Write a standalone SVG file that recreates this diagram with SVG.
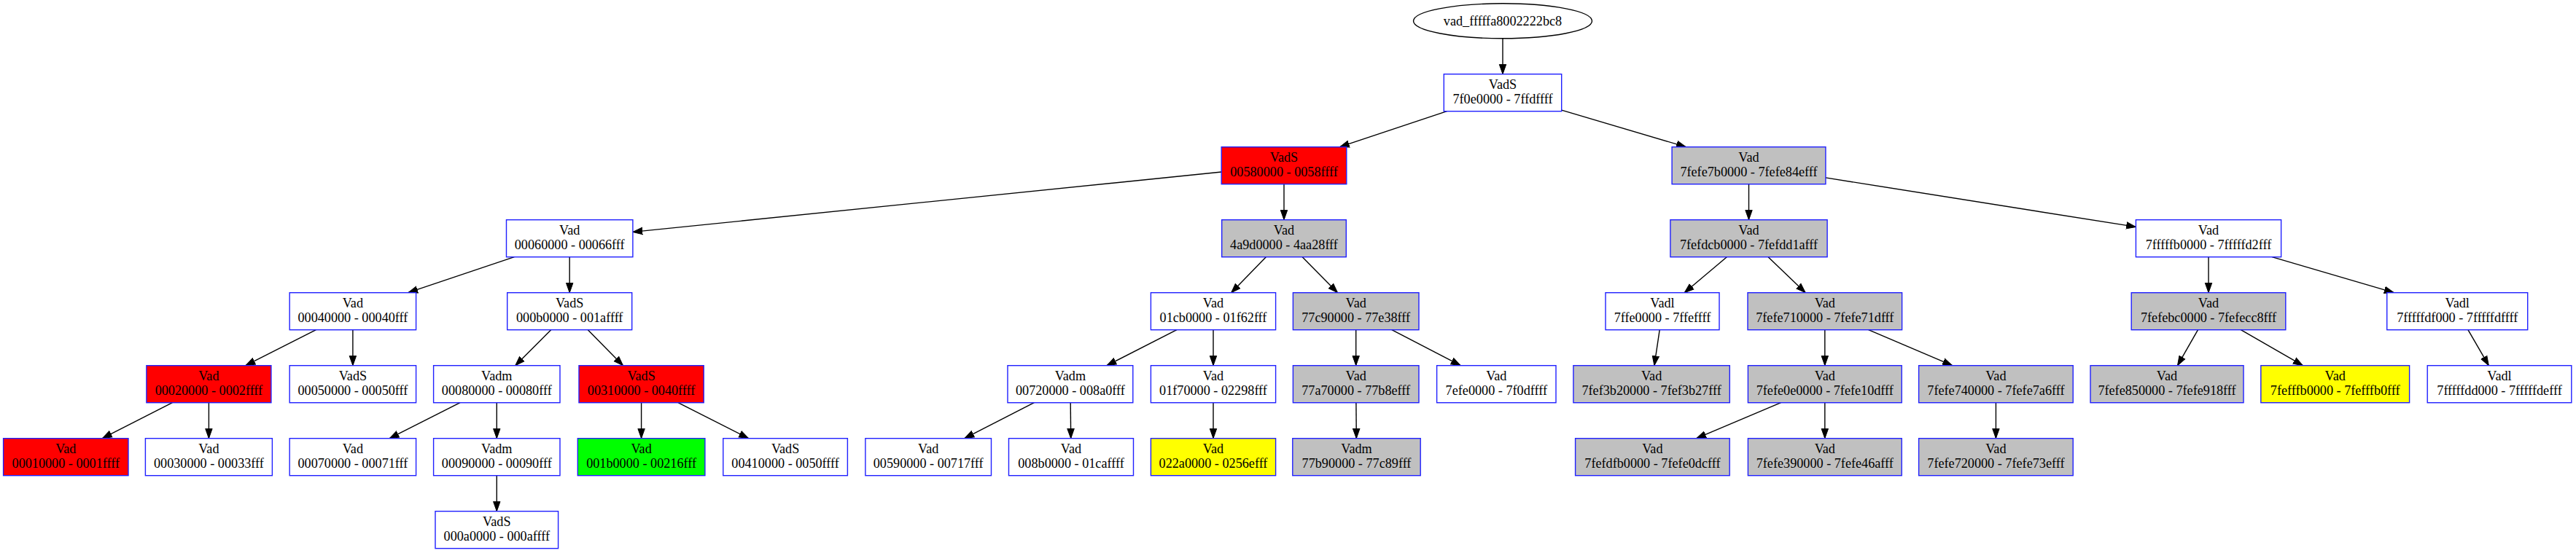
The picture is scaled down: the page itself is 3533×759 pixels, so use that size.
<svg xmlns="http://www.w3.org/2000/svg" width="3533" height="759" viewBox="0 0 3533 759">
<style>
.nd{stroke:#2020ff;stroke-width:1.4}
.w{fill:#ffffff}.r{fill:#ff0000}.g{fill:#c0c0c0}.y{fill:#ffff00}.gn{fill:#00ff00}
text{font-family:"Liberation Serif","Times New Roman",serif;font-size:18.2px;fill:#000;text-anchor:middle}
#edges line{stroke:#000;stroke-width:1.4;marker-end:url(#ah)}
</style>
<defs>
<marker id="ah" viewBox="0 -6 14 12" refX="13.3" refY="0" markerWidth="14" markerHeight="12" markerUnits="userSpaceOnUse" orient="auto">
<path d="M0,-4.7 L13.3,0 L0,4.7 Z" fill="#000" stroke="#000" stroke-width="1"/>
</marker>
</defs>
<rect x="0" y="0" width="3533" height="759" fill="#fff" stroke="none"/>
<g id="edges">
<line x1="2061" y1="52.8" x2="2061" y2="101.7"/>
<line x1="1984.5" y1="152.7" x2="1837.5" y2="201.7"/>
<line x1="2141.7" y1="151.1" x2="2312.4" y2="201.7"/>
<line x1="1675.2" y1="236" x2="867.9" y2="318.4"/>
<line x1="1761" y1="252.7" x2="1761" y2="301.7"/>
<line x1="2398.5" y1="252.7" x2="2398.5" y2="301.7"/>
<line x1="2503.9" y1="243.9" x2="2929.4" y2="311.4"/>
<line x1="705.4" y1="352.7" x2="559.7" y2="401.7"/>
<line x1="781.2" y1="352.7" x2="781.2" y2="401.7"/>
<line x1="1736.3" y1="352.7" x2="1688.7" y2="401.7"/>
<line x1="1786.2" y1="352.7" x2="1834.5" y2="401.7"/>
<line x1="2368.3" y1="352.7" x2="2310.2" y2="401.7"/>
<line x1="2425.1" y1="352.7" x2="2476.2" y2="401.7"/>
<line x1="3029" y1="352.7" x2="3029" y2="401.7"/>
<line x1="3116" y1="352.7" x2="3283.2" y2="401.7"/>
<line x1="433.5" y1="452.7" x2="336.8" y2="501.7"/>
<line x1="483.9" y1="452.7" x2="483.9" y2="501.7"/>
<line x1="755.7" y1="452.7" x2="706.8" y2="501.7"/>
<line x1="806.3" y1="452.7" x2="854.5" y2="501.7"/>
<line x1="1614" y1="452.7" x2="1517.9" y2="501.7"/>
<line x1="1664" y1="452.7" x2="1664" y2="501.7"/>
<line x1="1859.7" y1="452.7" x2="1859.7" y2="501.7"/>
<line x1="1908.8" y1="452.7" x2="2003.2" y2="501.7"/>
<line x1="2276.2" y1="452.7" x2="2268.9" y2="501.7"/>
<line x1="2502.8" y1="452.7" x2="2502.8" y2="501.7"/>
<line x1="2562.6" y1="452.7" x2="2677.6" y2="501.7"/>
<line x1="3014.5" y1="452.7" x2="2986.5" y2="501.7"/>
<line x1="3073.3" y1="452.7" x2="3158.4" y2="501.7"/>
<line x1="3384.9" y1="452.7" x2="3413.3" y2="501.7"/>
<line x1="236.4" y1="552.7" x2="140.3" y2="601.7"/>
<line x1="286.4" y1="552.7" x2="286.4" y2="601.7"/>
<line x1="631" y1="552.7" x2="534.2" y2="601.7"/>
<line x1="681.3" y1="552.7" x2="681.3" y2="601.7"/>
<line x1="879.6" y1="552.7" x2="879.6" y2="601.7"/>
<line x1="930" y1="552.7" x2="1026.7" y2="601.7"/>
<line x1="1418.3" y1="552.7" x2="1322.8" y2="601.7"/>
<line x1="1468.2" y1="552.7" x2="1468.7" y2="601.7"/>
<line x1="1664" y1="552.7" x2="1664" y2="601.7"/>
<line x1="1859.9" y1="552.7" x2="1860.3" y2="601.7"/>
<line x1="2442.5" y1="552.7" x2="2326.7" y2="601.7"/>
<line x1="2502.8" y1="552.7" x2="2502.8" y2="601.7"/>
<line x1="2737.4" y1="552.7" x2="2737.4" y2="601.7"/>
<line x1="681.3" y1="652.7" x2="681.3" y2="701.7"/>
</g>
<g id="root"><ellipse cx="2061" cy="28.8" rx="122.5" ry="24" fill="#fff" stroke="#000" stroke-width="1.4"/><text x="2061" y="34.5">vad_fffffa8002222bc8</text></g>
<g id="n1"><rect class="nd w" x="1980.3" y="101.7" width="161.4" height="51"/><text x="2061" y="121.7">VadS</text><text x="2061" y="141.7">7f0e0000 - 7ffdffff</text></g>
<g id="n2"><rect class="nd r" x="1675.2" y="201.7" width="171.6" height="51"/><text x="1761" y="221.7">VadS</text><text x="1761" y="241.7">00580000 - 0058ffff</text></g>
<g id="n3"><rect class="nd g" x="2293.1" y="201.7" width="210.8" height="51"/><text x="2398.5" y="221.7">Vad</text><text x="2398.5" y="241.7">7fefe7b0000 - 7fefe84efff</text></g>
<g id="n4"><rect class="nd w" x="694.5" y="301.7" width="173.4" height="51"/><text x="781.2" y="321.7">Vad</text><text x="781.2" y="341.7">00060000 - 00066fff</text></g>
<g id="n5"><rect class="nd g" x="1675.7" y="301.7" width="170.6" height="51"/><text x="1761" y="321.7">Vad</text><text x="1761" y="341.7">4a9d0000 - 4aa28fff</text></g>
<g id="n6"><rect class="nd g" x="2290.9" y="301.7" width="215.2" height="51"/><text x="2398.5" y="321.7">Vad</text><text x="2398.5" y="341.7">7fefdcb0000 - 7fefdd1afff</text></g>
<g id="n7"><rect class="nd w" x="2929.4" y="301.7" width="199.2" height="51"/><text x="3029" y="321.7">Vad</text><text x="3029" y="341.7">7fffffb0000 - 7fffffd2fff</text></g>
<g id="n8"><rect class="nd w" x="397.2" y="401.7" width="173.4" height="51"/><text x="483.9" y="421.7">Vad</text><text x="483.9" y="441.7">00040000 - 00040fff</text></g>
<g id="n9"><rect class="nd w" x="695.7" y="401.7" width="171" height="51"/><text x="781.2" y="421.7">VadS</text><text x="781.2" y="441.7">000b0000 - 001affff</text></g>
<g id="n10"><rect class="nd w" x="1578.4" y="401.7" width="171.2" height="51"/><text x="1664" y="421.7">Vad</text><text x="1664" y="441.7">01cb0000 - 01f62fff</text></g>
<g id="n11"><rect class="nd g" x="1773.4" y="401.7" width="172.6" height="51"/><text x="1859.7" y="421.7">Vad</text><text x="1859.7" y="441.7">77c90000 - 77e38fff</text></g>
<g id="n12"><rect class="nd w" x="2202" y="401.7" width="156" height="51"/><text x="2280" y="421.7">Vadl</text><text x="2280" y="441.7">7ffe0000 - 7ffeffff</text></g>
<g id="n13"><rect class="nd g" x="2397" y="401.7" width="211.6" height="51"/><text x="2502.8" y="421.7">Vad</text><text x="2502.8" y="441.7">7fefe710000 - 7fefe71dfff</text></g>
<g id="n14"><rect class="nd g" x="2923.2" y="401.7" width="211.6" height="51"/><text x="3029" y="421.7">Vad</text><text x="3029" y="441.7">7fefebc0000 - 7fefecc8fff</text></g>
<g id="n15"><rect class="nd w" x="3273.7" y="401.7" width="193" height="51"/><text x="3370.2" y="421.7">Vadl</text><text x="3370.2" y="441.7">7fffffdf000 - 7fffffdffff</text></g>
<g id="n16"><rect class="nd r" x="200.9" y="501.7" width="171" height="51"/><text x="286.4" y="521.7">Vad</text><text x="286.4" y="541.7">00020000 - 0002ffff</text></g>
<g id="n17"><rect class="nd w" x="397.2" y="501.7" width="173.4" height="51"/><text x="483.9" y="521.7">VadS</text><text x="483.9" y="541.7">00050000 - 00050fff</text></g>
<g id="n18"><rect class="nd w" x="594.6" y="501.7" width="173.4" height="51"/><text x="681.3" y="521.7">Vadm</text><text x="681.3" y="541.7">00080000 - 00080fff</text></g>
<g id="n19"><rect class="nd r" x="794" y="501.7" width="171.2" height="51"/><text x="879.6" y="521.7">VadS</text><text x="879.6" y="541.7">00310000 - 0040ffff</text></g>
<g id="n20"><rect class="nd w" x="1382" y="501.7" width="171.8" height="51"/><text x="1467.9" y="521.7">Vadm</text><text x="1467.9" y="541.7">00720000 - 008a0fff</text></g>
<g id="n21"><rect class="nd w" x="1578.4" y="501.7" width="171.2" height="51"/><text x="1664" y="521.7">Vad</text><text x="1664" y="541.7">01f70000 - 02298fff</text></g>
<g id="n22"><rect class="nd g" x="1773.4" y="501.7" width="172.6" height="51"/><text x="1859.7" y="521.7">Vad</text><text x="1859.7" y="541.7">77a70000 - 77b8efff</text></g>
<g id="n23"><rect class="nd w" x="1970.6" y="501.7" width="163.4" height="51"/><text x="2052.3" y="521.7">Vad</text><text x="2052.3" y="541.7">7efe0000 - 7f0dffff</text></g>
<g id="n24"><rect class="nd g" x="2157.9" y="501.7" width="214.4" height="51"/><text x="2265.1" y="521.7">Vad</text><text x="2265.1" y="541.7">7fef3b20000 - 7fef3b27fff</text></g>
<g id="n25"><rect class="nd g" x="2397.4" y="501.7" width="210.8" height="51"/><text x="2502.8" y="521.7">Vad</text><text x="2502.8" y="541.7">7fefe0e0000 - 7fefe10dfff</text></g>
<g id="n26"><rect class="nd g" x="2631.6" y="501.7" width="211.6" height="51"/><text x="2737.4" y="521.7">Vad</text><text x="2737.4" y="541.7">7fefe740000 - 7fefe7a6fff</text></g>
<g id="n27"><rect class="nd g" x="2867" y="501.7" width="210" height="51"/><text x="2972" y="521.7">Vad</text><text x="2972" y="541.7">7fefe850000 - 7fefe918fff</text></g>
<g id="n28"><rect class="nd y" x="3100.8" y="501.7" width="203.8" height="51"/><text x="3202.7" y="521.7">Vad</text><text x="3202.7" y="541.7">7fefffb0000 - 7fefffb0fff</text></g>
<g id="n29"><rect class="nd w" x="3329.2" y="501.7" width="197.6" height="51"/><text x="3428" y="521.7">Vadl</text><text x="3428" y="541.7">7fffffdd000 - 7fffffdefff</text></g>
<g id="n30"><rect class="nd r" x="4.6" y="601.7" width="171.4" height="51"/><text x="90.3" y="621.7">Vad</text><text x="90.3" y="641.7">00010000 - 0001ffff</text></g>
<g id="n31"><rect class="nd w" x="199.4" y="601.7" width="174" height="51"/><text x="286.4" y="621.7">Vad</text><text x="286.4" y="641.7">00030000 - 00033fff</text></g>
<g id="n32"><rect class="nd w" x="397.2" y="601.7" width="173.4" height="51"/><text x="483.9" y="621.7">Vad</text><text x="483.9" y="641.7">00070000 - 00071fff</text></g>
<g id="n33"><rect class="nd w" x="594.6" y="601.7" width="173.4" height="51"/><text x="681.3" y="621.7">Vadm</text><text x="681.3" y="641.7">00090000 - 00090fff</text></g>
<g id="n34"><rect class="nd gn" x="792.3" y="601.7" width="174.6" height="51"/><text x="879.6" y="621.7">Vad</text><text x="879.6" y="641.7">001b0000 - 00216fff</text></g>
<g id="n35"><rect class="nd w" x="991.8" y="601.7" width="170.6" height="51"/><text x="1077.1" y="621.7">VadS</text><text x="1077.1" y="641.7">00410000 - 0050ffff</text></g>
<g id="n36"><rect class="nd w" x="1186.9" y="601.7" width="172.6" height="51"/><text x="1273.2" y="621.7">Vad</text><text x="1273.2" y="641.7">00590000 - 00717fff</text></g>
<g id="n37"><rect class="nd w" x="1383.5" y="601.7" width="171" height="51"/><text x="1469" y="621.7">Vad</text><text x="1469" y="641.7">008b0000 - 01caffff</text></g>
<g id="n38"><rect class="nd y" x="1578.4" y="601.7" width="171.2" height="51"/><text x="1664" y="621.7">Vad</text><text x="1664" y="641.7">022a0000 - 0256efff</text></g>
<g id="n39"><rect class="nd g" x="1772.8" y="601.7" width="175.4" height="51"/><text x="1860.5" y="621.7">Vadm</text><text x="1860.5" y="641.7">77b90000 - 77c89fff</text></g>
<g id="n40"><rect class="nd g" x="2160.6" y="601.7" width="211.6" height="51"/><text x="2266.4" y="621.7">Vad</text><text x="2266.4" y="641.7">7fefdfb0000 - 7fefe0dcfff</text></g>
<g id="n41"><rect class="nd g" x="2397.4" y="601.7" width="210.8" height="51"/><text x="2502.8" y="621.7">Vad</text><text x="2502.8" y="641.7">7fefe390000 - 7fefe46afff</text></g>
<g id="n42"><rect class="nd g" x="2631.6" y="601.7" width="211.6" height="51"/><text x="2737.4" y="621.7">Vad</text><text x="2737.4" y="641.7">7fefe720000 - 7fefe73efff</text></g>
<g id="n43"><rect class="nd w" x="597" y="701.7" width="168.6" height="51"/><text x="681.3" y="721.7">VadS</text><text x="681.3" y="741.7">000a0000 - 000affff</text></g>
</svg>
